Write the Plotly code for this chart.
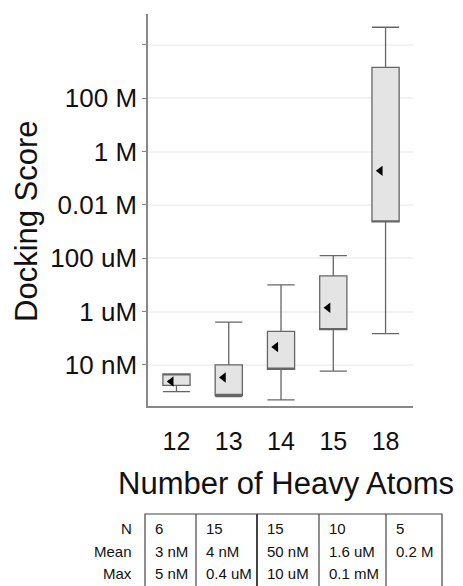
import plotly.graph_objects as go

# ---- data ----
categories = ["12", "13", "14", "15", "18"]
lower_whisker = [1.0e-9, 6.5e-10, 4.9e-10, 5.9e-9, 1.5e-7]
q1_values = [1.7e-9, 7.2e-10, 6.9e-9, 2.1e-7, 2.3e-3]
median_values = [4.6e-9, 7.2e-10, 6.9e-9, 2.1e-7, 2.3e-3]
q3_values = [4.6e-9, 1.0e-8, 1.8e-7, 2.2e-5, 1.45e3]
upper_whisker = [4.6e-9, 4.0e-7, 1.0e-5, 1.26e-4, 4.6e4]
mean_values = [2.4e-9, 3.4e-9, 4.7e-8, 1.4e-6, 0.19]

y_tickvals = [1e4, 1e2, 1, 1e-2, 1e-4, 1e-6, 1e-8]
y_ticktext = ["", "100 M", "1 M", "0.01 M", "100 uM", "1 uM", "10 nM"]

table_rows = ["N", "Mean", "Max"]
table_n = ["6", "15", "15", "10", "5"]
table_mean = ["3 nM", "4 nM", "50 nM", "1.6 uM", "0.2 M"]
table_max = ["5 nM", "0.4 uM", "10 uM", "0.1 mM", ""]

# ---- layout geometry (pixels) ----
W, H = 463, 586
L, R, T, B = 148, 413, 14, 406
FONT = "Liberation Sans, Arial, sans-serif"


def px(x):
    return (x - L) / (R - L)


def py(y):
    return (B - y) / (B - T)


positions = list(range(len(categories)))

fig = go.Figure()
fig.add_trace(go.Box(
    x=positions,
    q1=q1_values,
    median=median_values,
    q3=q3_values,
    lowerfence=lower_whisker,
    upperfence=upper_whisker,
    width=0.52,
    whiskerwidth=1,
    fillcolor="#e4e4e4",
    line=dict(color="#666666", width=1.3),
    boxpoints=False,
    hoverinfo="skip",
    showlegend=False,
))
fig.add_trace(go.Scatter(
    x=[p - 0.1 for p in positions],
    y=mean_values,
    mode="markers",
    marker=dict(symbol="triangle-left", size=9, color="black"),
    showlegend=False,
    hoverinfo="skip",
))

annotations = []
shapes = []

# axis titles
annotations.append(dict(text="Docking Score", x=px(26), y=py(221), xref="paper", yref="paper",
                        showarrow=False, textangle=-90, font=dict(size=31, color="#111", family=FONT),
                        xanchor="center", yanchor="middle"))
annotations.append(dict(text="Number of Heavy Atoms", x=px(286), y=py(483), xref="paper", yref="paper",
                        showarrow=False, font=dict(size=31, color="#111", family=FONT),
                        xanchor="center", yanchor="middle"))

# table
col_edges = [145, 196, 257, 319, 386, 442]
row_y = [528, 551, 573]
tfont = dict(size=15, color="#111", family="Liberation Sans Narrow, Arial Narrow, " + FONT)
shapes.append(dict(type="rect", xref="paper", yref="paper", x0=px(col_edges[0]), x1=px(col_edges[-1]),
                   y0=py(514), y1=py(600), line=dict(color="#444", width=1.2), fillcolor="rgba(0,0,0,0)"))
for i, xe in enumerate(col_edges[1:-1]):
    shapes.append(dict(type="line", xref="paper", yref="paper", x0=px(xe), x1=px(xe),
                       y0=py(514), y1=py(600),
                       line=dict(color="#444", width=2 if i == 1 else 1.2)))
for label, yy in zip(table_rows, row_y):
    annotations.append(dict(text=label, x=px(134), y=py(yy), xref="paper", yref="paper",
                            showarrow=False, xanchor="right", yanchor="middle", font=tfont))
for c, (n, m, mx) in enumerate(zip(table_n, table_mean, table_max)):
    for val, yy in zip((n, m, mx), row_y):
        if val:
            annotations.append(dict(text=val, x=px(col_edges[c] + 8), y=py(yy), xref="paper", yref="paper",
                                    showarrow=False, xanchor="left", yanchor="middle", font=tfont))

fig.update_layout(
    width=W, height=H,
    margin=dict(l=L, r=W - R, t=T, b=H - B, pad=0),
    paper_bgcolor="white", plot_bgcolor="white",
    font=dict(family=FONT, color="#111"),
    annotations=annotations,
    shapes=shapes,
    showlegend=False,
)
fig.update_xaxes(
    range=[-0.545, 4.525],
    tickmode="array", tickvals=positions, ticktext=categories,
    tickfont=dict(size=25, color="#111", family=FONT),
    showgrid=False, zeroline=False,
    showline=True, linecolor="#888888", linewidth=1.5,
    ticks="", ticklabelstandoff=12,
)
fig.update_yaxes(
    type="log", range=[-9.54, 5.16],
    tickmode="array", tickvals=y_tickvals, ticktext=y_ticktext,
    tickfont=dict(size=26, color="#111", family=FONT),
    showgrid=True, gridcolor="#f2f2f2", gridwidth=1.5,
    showline=True, linecolor="#888888", linewidth=1.5,
    ticks="outside", ticklen=4, tickcolor="#888888",
)

fig.write_html("out.html", config={"displayModeBar": False},
               post_script="document.body.style.margin='0';document.body.style.overflow='hidden';")
